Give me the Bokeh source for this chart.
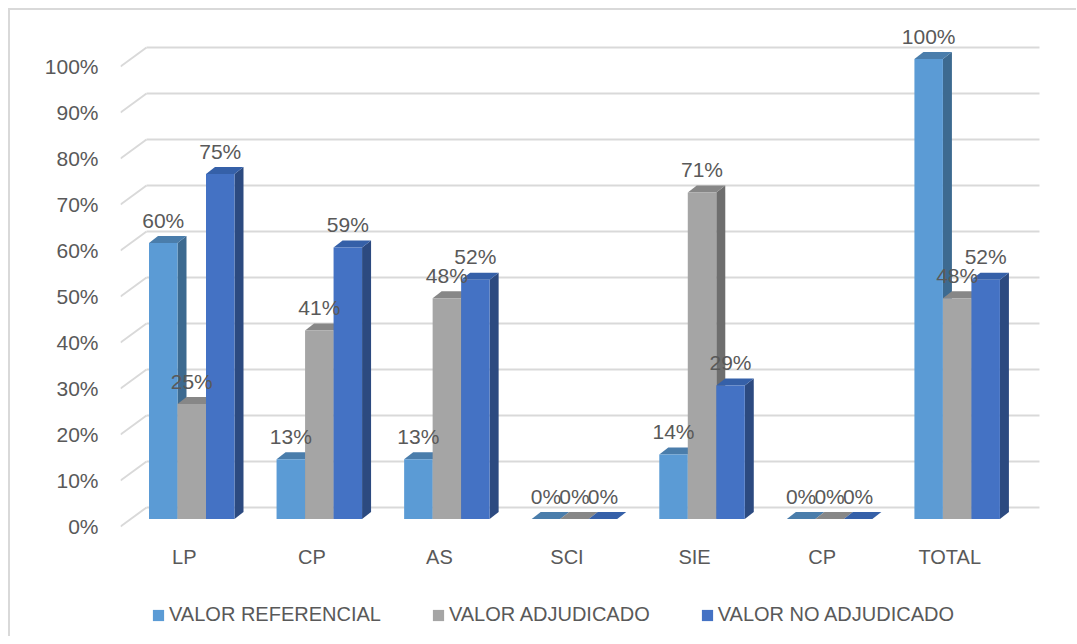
from bokeh.plotting import figure
from bokeh.models import (Range1d, FixedTicker, Legend, LegendItem,
                          NumeralTickFormatter)
from bokeh.core.properties import value
from bokeh.embed import file_html
from bokeh.resources import INLINE

# ---------------- data ----------------
categories = ["LP", "CP", "AS", "SCI", "SIE", "CP", "TOTAL"]
valor_referencial = [0.60, 0.13, 0.13, 0.00, 0.14, 0.00, 1.00]
valor_adjudicado = [0.25, 0.41, 0.48, 0.00, 0.71, 0.00, 0.48]
valor_no_adjudicado = [0.75, 0.59, 0.52, 0.00, 0.29, 0.00, 0.52]
series_names = ["VALOR REFERENCIAL", "VALOR ADJUDICADO", "VALOR NO ADJUDICADO"]
y_ticks = [0.0, 0.1, 0.2, 0.3, 0.4, 0.5, 0.6, 0.7, 0.8, 0.9, 1.0]

# ---------------- style ----------------
FONT = "Liberation Sans"
TXT = "#595959"
GRID = "#d9d9d9"
front_colors = ["#5B9BD5", "#A5A5A5", "#4472C4"]
top_colors = ["#4A7DAB", "#878787", "#3560A8"]
side_colors = ["#3D6A90", "#6E6E6E", "#2C4A80"]

PX_X = 127.57   # px per category
PX_Y = 460.0    # px per 100%
FDX, FDY = 26 / PX_X, 19 / PX_Y          # floor depth
BW = 28.5 / PX_X                         # bar width
G0 = 28.5 / PX_X                         # group start inside category
BASE = 7.5 / PX_Y                        # bars sit at mid depth
BDX, BDY = 9 / PX_X, 7 / PX_Y            # bar depth

FRAME_W = 925
FRAME_TOP_PX = 506      # px above the front 0% line
FRAME_BOT_PX = 110      # px below the front 0% line (labels + legend)

p = figure(output_backend="svg", toolbar_location=None,
           frame_width=FRAME_W, frame_height=FRAME_TOP_PX + FRAME_BOT_PX,
           min_border_left=110, min_border_right=31,
           min_border_top=10, min_border_bottom=0,
           x_range=Range1d(0, FRAME_W / PX_X),
           y_range=Range1d(-FRAME_BOT_PX / PX_Y, FRAME_TOP_PX / PX_Y))
p.styles = {"margin-left": "8px", "margin-top": "8px",
            "border-left": "2px solid #d9d9d9", "border-top": "2px solid #d9d9d9"}
p.outline_line_color = None
p.xgrid.visible = False
p.ygrid.visible = False
p.xaxis.visible = False
p.background_fill_color = "white"
p.border_fill_color = "white"

n = len(categories)

# gridlines (back wall + left floor diagonals)
p.segment(x0=[FDX] * len(y_ticks), y0=[t + FDY for t in y_ticks],
          x1=[n + FDX] * len(y_ticks), y1=[t + FDY for t in y_ticks],
          line_color=GRID, line_width=2)
p.segment(x0=[0] * len(y_ticks), y0=y_ticks,
          x1=[FDX] * len(y_ticks), y1=[t + FDY for t in y_ticks],
          line_color=GRID, line_width=2)

all_series = [valor_referencial, valor_adjudicado, valor_no_adjudicado]
front_renderers = []
lab_x, lab_y, lab_t = [], [], []
for s, vals in enumerate(all_series):
    xs_side, ys_side, xs_top, ys_top = [], [], [], []
    left, right, bottom, top = [], [], [], []
    for i, v in enumerate(vals):
        x0 = i + G0 + s * BW
        x1 = x0 + BW
        y0 = BASE
        y1 = BASE + v
        xs_side.append([x1, x1 + BDX, x1 + BDX, x1])
        ys_side.append([y0, y0 + BDY, y1 + BDY, y1])
        xs_top.append([x0, x1, x1 + BDX, x0 + BDX])
        ys_top.append([y1, y1, y1 + BDY, y1 + BDY])
        left.append(x0); right.append(x1); bottom.append(y0); top.append(y1)
        lab_x.append((x0 + x1) / 2)
        lab_y.append(y1 + BDY)
        lab_t.append(f"{round(v * 100)}%")
    p.patches(xs_side, ys_side, fill_color=side_colors[s], line_color=None)
    p.patches(xs_top, ys_top, fill_color=top_colors[s], line_color=None)
    r = p.quad(left=left, right=right, bottom=bottom, top=top,
               fill_color=front_colors[s], line_color=None)
    front_renderers.append(r)

# data labels
p.text(x=lab_x, y=lab_y, text=lab_t, text_align="center",
       text_baseline="alphabetic", y_offset=-16,
       text_font=value(FONT), text_font_size="21px", text_color=TXT)

# category labels (front floor edge)
p.text(x=[i + 0.5 for i in range(n)], y=[0] * n, text=categories,
       text_align="center", text_baseline="middle", y_offset=30,
       text_font=value(FONT), text_font_size="20px", text_color=TXT)

# y axis
p.yaxis.ticker = FixedTicker(ticks=y_ticks)
p.yaxis.formatter = NumeralTickFormatter(format="0%")
p.yaxis.major_label_standoff = 22
p.yaxis.axis_line_color = None
p.yaxis.major_tick_line_color = None
p.yaxis.minor_tick_line_color = None
p.yaxis.major_tick_in = 0
p.yaxis.major_tick_out = 0
p.yaxis.major_label_text_font = FONT
p.yaxis.major_label_text_font_size = "21px"
p.yaxis.major_label_text_color = TXT

legend = Legend(items=[LegendItem(label=nm, renderers=[r])
                       for nm, r in zip(series_names, front_renderers)],
                orientation="horizontal", location=(31, 10),
                glyph_width=14, glyph_height=14, label_standoff=4,
                spacing=50, padding=0, margin=0,
                border_line_color=None, background_fill_alpha=0,
                label_text_font=FONT, label_text_font_size="20px",
                label_text_color=TXT)
p.add_layout(legend, "center")

open("out.html", "w").write(file_html(p, INLINE))
